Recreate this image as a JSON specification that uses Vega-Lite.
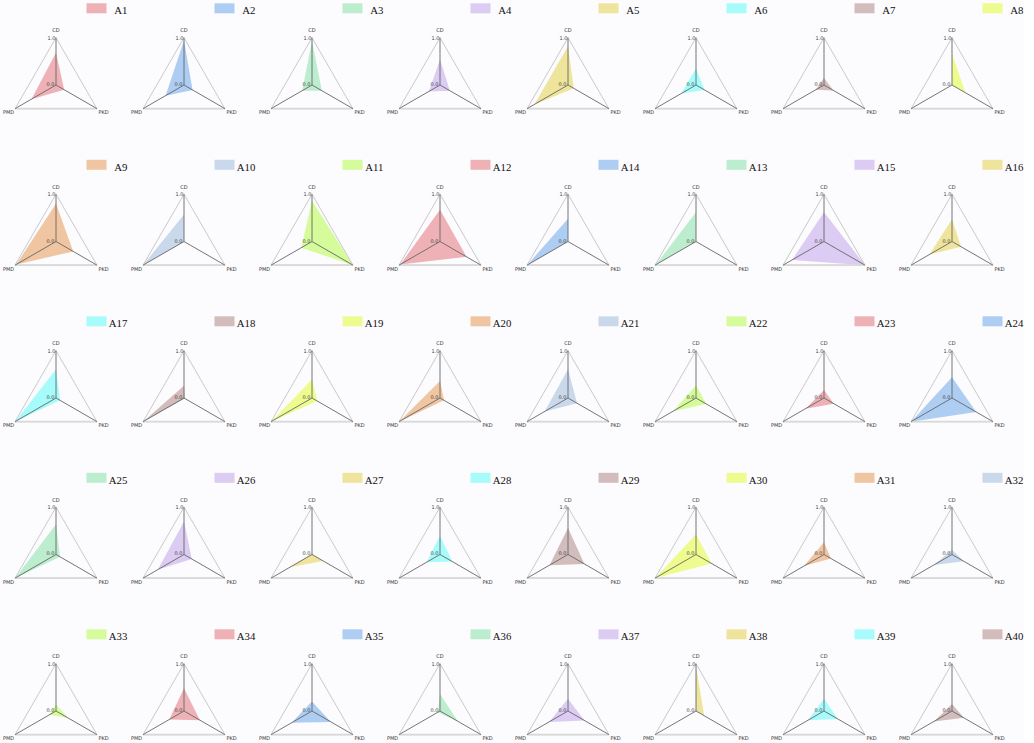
{
  "$schema": "https://vega.github.io/schema/vega-lite/v6.json",
  "background": "#fcfbfd",
  "padding": {"top": 3.3, "left": 0, "right": 0, "bottom": 0},
  "bounds": "flush",
  "config": {
    "view": {"stroke": null},
    "headerFacet": {"title": null, "labelFont": "Liberation Serif", "labelFontSize": 10.8, "labelColor": "#111111", "labelAnchor": "end", "labelAlign": "right", "labelBaseline": "alphabetic", "labelPadding": -21.6}
  },
  "data": {"values": [
    {"name": "A1", "axis": "CD", "value": 0.68}, {"name": "A1", "axis": "PMD", "value": 0.60}, {"name": "A1", "axis": "PKD", "value": 0.20},
    {"name": "A2", "axis": "CD", "value": 0.94}, {"name": "A2", "axis": "PMD", "value": 0.45}, {"name": "A2", "axis": "PKD", "value": 0.21},
    {"name": "A3", "axis": "CD", "value": 0.93}, {"name": "A3", "axis": "PMD", "value": 0.24}, {"name": "A3", "axis": "PKD", "value": 0.24},
    {"name": "A4", "axis": "CD", "value": 0.54}, {"name": "A4", "axis": "PMD", "value": 0.27}, {"name": "A4", "axis": "PKD", "value": 0.24},
    {"name": "A5", "axis": "CD", "value": 0.82}, {"name": "A5", "axis": "PMD", "value": 0.82}, {"name": "A5", "axis": "PKD", "value": 0.14},
    {"name": "A6", "axis": "CD", "value": 0.35}, {"name": "A6", "axis": "PMD", "value": 0.36}, {"name": "A6", "axis": "PKD", "value": 0.21},
    {"name": "A7", "axis": "CD", "value": 0.15}, {"name": "A7", "axis": "PMD", "value": 0.20}, {"name": "A7", "axis": "PKD", "value": 0.23},
    {"name": "A8", "axis": "CD", "value": 0.66}, {"name": "A8", "axis": "PMD", "value": 0.00}, {"name": "A8", "axis": "PKD", "value": 0.33},
    {"name": "A9", "axis": "CD", "value": 0.80}, {"name": "A9", "axis": "PMD", "value": 0.97}, {"name": "A9", "axis": "PKD", "value": 0.42},
    {"name": "A10", "axis": "CD", "value": 0.57}, {"name": "A10", "axis": "PMD", "value": 1.00}, {"name": "A10", "axis": "PKD", "value": 0.00},
    {"name": "A11", "axis": "CD", "value": 0.86}, {"name": "A11", "axis": "PMD", "value": 0.26}, {"name": "A11", "axis": "PKD", "value": 1.00},
    {"name": "A12", "axis": "CD", "value": 0.67}, {"name": "A12", "axis": "PMD", "value": 0.97}, {"name": "A12", "axis": "PKD", "value": 0.65},
    {"name": "A14", "axis": "CD", "value": 0.48}, {"name": "A14", "axis": "PMD", "value": 1.00}, {"name": "A14", "axis": "PKD", "value": 0.00},
    {"name": "A13", "axis": "CD", "value": 0.62}, {"name": "A13", "axis": "PMD", "value": 0.98}, {"name": "A13", "axis": "PKD", "value": 0.00},
    {"name": "A15", "axis": "CD", "value": 0.62}, {"name": "A15", "axis": "PMD", "value": 0.78}, {"name": "A15", "axis": "PKD", "value": 1.00},
    {"name": "A16", "axis": "CD", "value": 0.47}, {"name": "A16", "axis": "PMD", "value": 0.55}, {"name": "A16", "axis": "PKD", "value": 0.22},
    {"name": "A17", "axis": "CD", "value": 0.61}, {"name": "A17", "axis": "PMD", "value": 1.00}, {"name": "A17", "axis": "PKD", "value": 0.10},
    {"name": "A18", "axis": "CD", "value": 0.26}, {"name": "A18", "axis": "PMD", "value": 1.00}, {"name": "A18", "axis": "PKD", "value": 0.02},
    {"name": "A19", "axis": "CD", "value": 0.39}, {"name": "A19", "axis": "PMD", "value": 1.00}, {"name": "A19", "axis": "PKD", "value": 0.13},
    {"name": "A20", "axis": "CD", "value": 0.36}, {"name": "A20", "axis": "PMD", "value": 1.00}, {"name": "A20", "axis": "PKD", "value": 0.10},
    {"name": "A21", "axis": "CD", "value": 0.61}, {"name": "A21", "axis": "PMD", "value": 0.57}, {"name": "A21", "axis": "PKD", "value": 0.22},
    {"name": "A22", "axis": "CD", "value": 0.27}, {"name": "A22", "axis": "PMD", "value": 0.56}, {"name": "A22", "axis": "PKD", "value": 0.25},
    {"name": "A23", "axis": "CD", "value": 0.17}, {"name": "A23", "axis": "PMD", "value": 0.45}, {"name": "A23", "axis": "PKD", "value": 0.24},
    {"name": "A24", "axis": "CD", "value": 0.44}, {"name": "A24", "axis": "PMD", "value": 1.00}, {"name": "A24", "axis": "PKD", "value": 0.59},
    {"name": "A25", "axis": "CD", "value": 0.64}, {"name": "A25", "axis": "PMD", "value": 1.00}, {"name": "A25", "axis": "PKD", "value": 0.10},
    {"name": "A26", "axis": "CD", "value": 0.70}, {"name": "A26", "axis": "PMD", "value": 0.64}, {"name": "A26", "axis": "PKD", "value": 0.19},
    {"name": "A27", "axis": "CD", "value": 0.02}, {"name": "A27", "axis": "PMD", "value": 0.54}, {"name": "A27", "axis": "PKD", "value": 0.27},
    {"name": "A28", "axis": "CD", "value": 0.39}, {"name": "A28", "axis": "PMD", "value": 0.33}, {"name": "A28", "axis": "PKD", "value": 0.30},
    {"name": "A29", "axis": "CD", "value": 0.56}, {"name": "A29", "axis": "PMD", "value": 0.45}, {"name": "A29", "axis": "PKD", "value": 0.40},
    {"name": "A30", "axis": "CD", "value": 0.43}, {"name": "A30", "axis": "PMD", "value": 1.00}, {"name": "A30", "axis": "PKD", "value": 0.38},
    {"name": "A31", "axis": "CD", "value": 0.26}, {"name": "A31", "axis": "PMD", "value": 0.49}, {"name": "A31", "axis": "PKD", "value": 0.17},
    {"name": "A32", "axis": "CD", "value": 0.10}, {"name": "A32", "axis": "PMD", "value": 0.44}, {"name": "A32", "axis": "PKD", "value": 0.29},
    {"name": "A33", "axis": "CD", "value": 0.14}, {"name": "A33", "axis": "PMD", "value": 0.16}, {"name": "A33", "axis": "PKD", "value": 0.30},
    {"name": "A34", "axis": "CD", "value": 0.48}, {"name": "A34", "axis": "PMD", "value": 0.36}, {"name": "A34", "axis": "PKD", "value": 0.39},
    {"name": "A35", "axis": "CD", "value": 0.20}, {"name": "A35", "axis": "PMD", "value": 0.50}, {"name": "A35", "axis": "PKD", "value": 0.46},
    {"name": "A36", "axis": "CD", "value": 0.36}, {"name": "A36", "axis": "PMD", "value": 0.05}, {"name": "A36", "axis": "PKD", "value": 0.44},
    {"name": "A37", "axis": "CD", "value": 0.26}, {"name": "A37", "axis": "PMD", "value": 0.46}, {"name": "A37", "axis": "PKD", "value": 0.40},
    {"name": "A38", "axis": "CD", "value": 0.95}, {"name": "A38", "axis": "PMD", "value": 0.00}, {"name": "A38", "axis": "PKD", "value": 0.20},
    {"name": "A39", "axis": "CD", "value": 0.26}, {"name": "A39", "axis": "PMD", "value": 0.39}, {"name": "A39", "axis": "PKD", "value": 0.34},
    {"name": "A40", "axis": "CD", "value": 0.15}, {"name": "A40", "axis": "PMD", "value": 0.44}, {"name": "A40", "axis": "PKD", "value": 0.29}
  ]},
  "facet": {
    "field": "name", "type": "nominal", "title": null,
    "sort": ["A1","A2","A3","A4","A5","A6","A7","A8","A9","A10","A11","A12","A14","A13","A15","A16","A17","A18","A19","A20","A21","A22","A23","A24","A25","A26","A27","A28","A29","A30","A31","A32","A33","A34","A35","A36","A37","A38","A39","A40"]
  },
  "columns": 8,
  "spacing": {"row": 53.5, "column": 0},
  "spec": {
    "width": 127.4,
    "height": 102.5,
    "transform": [
      {"calculate": "indexof(['CD','PMD','PKD'], datum.axis)", "as": "k"},
      {"calculate": "PI/2 + datum.k*2*PI/3", "as": "ang"},
      {"calculate": "datum.value*cos(datum.ang)", "as": "px"},
      {"calculate": "datum.value*sin(datum.ang)", "as": "py"},
      {"calculate": "cos(datum.ang)", "as": "fx"},
      {"calculate": "sin(datum.ang)", "as": "fy"},
      {"calculate": "1.16*cos(datum.ang)", "as": "lx"},
      {"calculate": "1.16*sin(datum.ang)", "as": "ly"}
    ],
    "layer": [
      {
        "mark": {"type": "line", "interpolate": "linear-closed", "strokeWidth": 0, "strokeOpacity": 0, "fillOpacity": 1},
        "encoding": {
          "x": {"field": "px", "type": "quantitative", "scale": {"domain": [-1.184, 1.5095], "nice": false, "zero": false}, "axis": null},
          "y": {"field": "py", "type": "quantitative", "scale": {"domain": [-0.6934, 1.4736], "nice": false, "zero": false}, "axis": null},
          "order": {"field": "k", "type": "quantitative"},
          "fill": {"field": "name", "type": "nominal", "legend": null,
            "scale": {
              "domain": ["A1","A2","A3","A4","A5","A6","A7","A8","A9","A10","A11","A12","A14","A13","A15","A16","A17","A18","A19","A20","A21","A22","A23","A24","A25","A26","A27","A28","A29","A30","A31","A32","A33","A34","A35","A36","A37","A38","A39","A40"],
              "range": ["#eeb1b6","#aecdf3","#bdedcf","#dccbf2","#efe49b","#a7fbfb","#d3bcbc","#eefb8f","#f0c5a1","#c9d9eb","#d5fb9b",
                        "#eeb1b6","#aecdf3","#bdedcf","#dccbf2","#efe49b","#a7fbfb","#d3bcbc","#eefb8f","#f0c5a1","#c9d9eb","#d5fb9b",
                        "#eeb1b6","#aecdf3","#bdedcf","#dccbf2","#efe49b","#a7fbfb","#d3bcbc","#eefb8f","#f0c5a1","#c9d9eb","#d5fb9b",
                        "#eeb1b6","#aecdf3","#bdedcf","#dccbf2","#efe49b","#a7fbfb","#d3bcbc"]
            }}
        }
      },
      {
        "mark": {"type": "line", "interpolate": "linear-closed", "stroke": "#bdbdbd", "strokeWidth": 0.8},
        "encoding": {
          "x": {"field": "fx", "type": "quantitative", "scale": {"domain": [-1.184, 1.5095], "nice": false, "zero": false}, "axis": null},
          "y": {"field": "fy", "type": "quantitative", "scale": {"domain": [-0.6934, 1.4736], "nice": false, "zero": false}, "axis": null},
          "order": {"field": "k", "type": "quantitative"}
        }
      },
      {
        "transform": [{"filter": "datum.axis === 'PMD'"}],
        "mark": {"type": "rule", "stroke": "#d9d9d9", "strokeWidth": 1.8},
        "encoding": {
          "x": {"field": "fx", "type": "quantitative", "scale": {"domain": [-1.184, 1.5095], "nice": false, "zero": false}, "axis": null},
          "y": {"field": "fy", "type": "quantitative", "scale": {"domain": [-0.6934, 1.4736], "nice": false, "zero": false}, "axis": null},
          "x2": {"datum": 0.8660254},
          "y2": {"datum": -0.5}
        }
      },
      {
        "mark": {"type": "rule", "stroke": "#666666", "strokeWidth": 0.9},
        "encoding": {
          "x": {"field": "fx", "type": "quantitative", "scale": {"domain": [-1.184, 1.5095], "nice": false, "zero": false}, "axis": null},
          "y": {"field": "fy", "type": "quantitative", "scale": {"domain": [-0.6934, 1.4736], "nice": false, "zero": false}, "axis": null},
          "x2": {"datum": 0},
          "y2": {"datum": 0}
        }
      },
      {
        "mark": {"type": "text", "fontSize": 5, "font": "DejaVu Sans", "color": "#333333", "align": "center", "baseline": "middle"},
        "encoding": {
          "x": {"field": "lx", "type": "quantitative", "scale": {"domain": [-1.184, 1.5095], "nice": false, "zero": false}, "axis": null},
          "y": {"field": "ly", "type": "quantitative", "scale": {"domain": [-0.6934, 1.4736], "nice": false, "zero": false}, "axis": null},
          "text": {"field": "axis", "type": "nominal"}
        }
      },
      {
        "transform": [{"filter": "datum.axis === 'CD'"}],
        "mark": {"type": "text", "text": "1.0", "fontSize": 5, "font": "DejaVu Sans", "color": "#444444", "align": "right", "baseline": "middle", "dx": -0.5},
        "encoding": {
          "x": {"datum": 0, "type": "quantitative", "scale": {"domain": [-1.184, 1.5095], "nice": false, "zero": false}, "axis": null},
          "y": {"datum": 1, "type": "quantitative", "scale": {"domain": [-0.6934, 1.4736], "nice": false, "zero": false}, "axis": null}
        }
      },
      {
        "transform": [{"filter": "datum.axis === 'CD'"}],
        "mark": {"type": "text", "text": "0.0", "fontSize": 5, "font": "DejaVu Sans", "color": "#444444", "align": "right", "baseline": "middle", "dx": -1.5, "dy": -1},
        "encoding": {
          "x": {"datum": 0, "type": "quantitative", "scale": {"domain": [-1.184, 1.5095], "nice": false, "zero": false}, "axis": null},
          "y": {"datum": 0, "type": "quantitative", "scale": {"domain": [-0.6934, 1.4736], "nice": false, "zero": false}, "axis": null}
        }
      },
      {
        "transform": [{"filter": "datum.axis === 'CD'"}],
        "mark": {"type": "rect"},
        "encoding": {
          "x": {"datum": 0.6448, "type": "quantitative", "scale": {"domain": [-1.184, 1.5095], "nice": false, "zero": false}, "axis": null},
          "x2": {"datum": 1.0677},
          "y": {"datum": 1.727, "type": "quantitative", "scale": {"domain": [-0.6934, 1.4736], "nice": false, "zero": false}, "axis": null},
          "y2": {"datum": 1.516},
          "fill": {"field": "name", "type": "nominal", "legend": null,
            "scale": {
              "domain": ["A1","A2","A3","A4","A5","A6","A7","A8","A9","A10","A11","A12","A14","A13","A15","A16","A17","A18","A19","A20","A21","A22","A23","A24","A25","A26","A27","A28","A29","A30","A31","A32","A33","A34","A35","A36","A37","A38","A39","A40"],
              "range": ["#eeb1b6","#aecdf3","#bdedcf","#dccbf2","#efe49b","#a7fbfb","#d3bcbc","#eefb8f","#f0c5a1","#c9d9eb","#d5fb9b",
                        "#eeb1b6","#aecdf3","#bdedcf","#dccbf2","#efe49b","#a7fbfb","#d3bcbc","#eefb8f","#f0c5a1","#c9d9eb","#d5fb9b",
                        "#eeb1b6","#aecdf3","#bdedcf","#dccbf2","#efe49b","#a7fbfb","#d3bcbc","#eefb8f","#f0c5a1","#c9d9eb","#d5fb9b",
                        "#eeb1b6","#aecdf3","#bdedcf","#dccbf2","#efe49b","#a7fbfb","#d3bcbc"]
            }}
        }
      }
    ]
  }
}
